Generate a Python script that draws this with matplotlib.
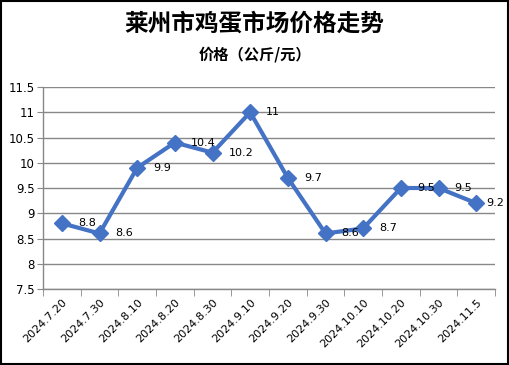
import matplotlib
matplotlib.use("Agg")
import matplotlib.pyplot as plt
from matplotlib.patches import Rectangle
from matplotlib.ticker import FixedLocator, NullFormatter

plt.rcParams['font.family'] = ['Noto Sans CJK SC', 'DejaVu Sans']

categories = ["2024.7.20", "2024.7.30", "2024.8.10", "2024.8.20", "2024.8.30", "2024.9.10",
              "2024.9.20", "2024.9.30", "2024.10.10", "2024.10.20", "2024.10.30", "2024.11.5"]
prices = [8.8, 8.6, 9.9, 10.4, 10.2, 11, 9.7, 8.6, 8.7, 9.5, 9.5, 9.2]
value_labels = ["8.8", "8.6", "9.9", "10.4", "10.2", "11", "9.7", "8.6", "8.7", "9.5", "9.5", "9.2"]
yticks = [7.5, 8, 8.5, 9, 9.5, 10, 10.5, 11, 11.5]
ytick_labels = ["7.5", "8", "8.5", "9", "9.5", "10", "10.5", "11", "11.5"]

fig = plt.figure(figsize=(5.09, 3.65), dpi=100)
fig.patches.append(Rectangle((0.001, 0.002), 0.997, 0.995, transform=fig.transFigure,
                             fill=False, edgecolor='black', linewidth=1.5))

ax = fig.add_axes([0.0845, 0.2082, 0.888, 0.5534])
x = list(range(len(categories)))
ax.plot(x, prices, color='#4472C4', linewidth=3, marker='D', markersize=8, zorder=3)
n = len(categories)
for xi, yi, lab in zip(x, prices, value_labels):
    off = 7 if xi == n - 1 else 11.5
    ax.annotate(lab, (xi, yi), xytext=(off, 0), textcoords='offset points',
                ha='left', va='center', fontsize=8, family='DejaVu Sans', color='black',
                annotation_clip=False)

ax.set_xlim(-0.5, n - 0.5)
ax.set_ylim(7.5, 11.5)
ax.set_yticks(yticks)
ax.set_yticklabels(ytick_labels, fontsize=8.5, family='DejaVu Sans')
ax.set_xticks(x)
ax.set_xticklabels(categories, rotation=45, ha='right', rotation_mode='anchor', fontsize=8,
                   family='DejaVu Sans')
ax.xaxis.set_minor_locator(FixedLocator([i - 0.5 for i in range(n + 1)]))
ax.xaxis.set_minor_formatter(NullFormatter())
ax.tick_params(axis='x', which='major', length=0, pad=6)
ax.tick_params(axis='x', which='minor', length=5, color='#888888')
ax.tick_params(axis='y', length=4, color='#888888', pad=2)
ax.grid(axis='y', color='#888888', linewidth=1)
ax.set_axisbelow(True)
for s in ['top', 'right']:
    ax.spines[s].set_visible(False)
for s in ['left', 'bottom']:
    ax.spines[s].set_color('#888888')
    ax.spines[s].set_linewidth(1)

fig.text(0.5, 0.935, "莱州市鸡蛋市场价格走势", ha='center', va='center', fontsize=17, fontweight='bold')
fig.text(0.5, 0.85, "价格（公斤/元）", ha='center', va='center', fontsize=11, fontweight='bold')

fig.savefig("out.png", dpi=100)
